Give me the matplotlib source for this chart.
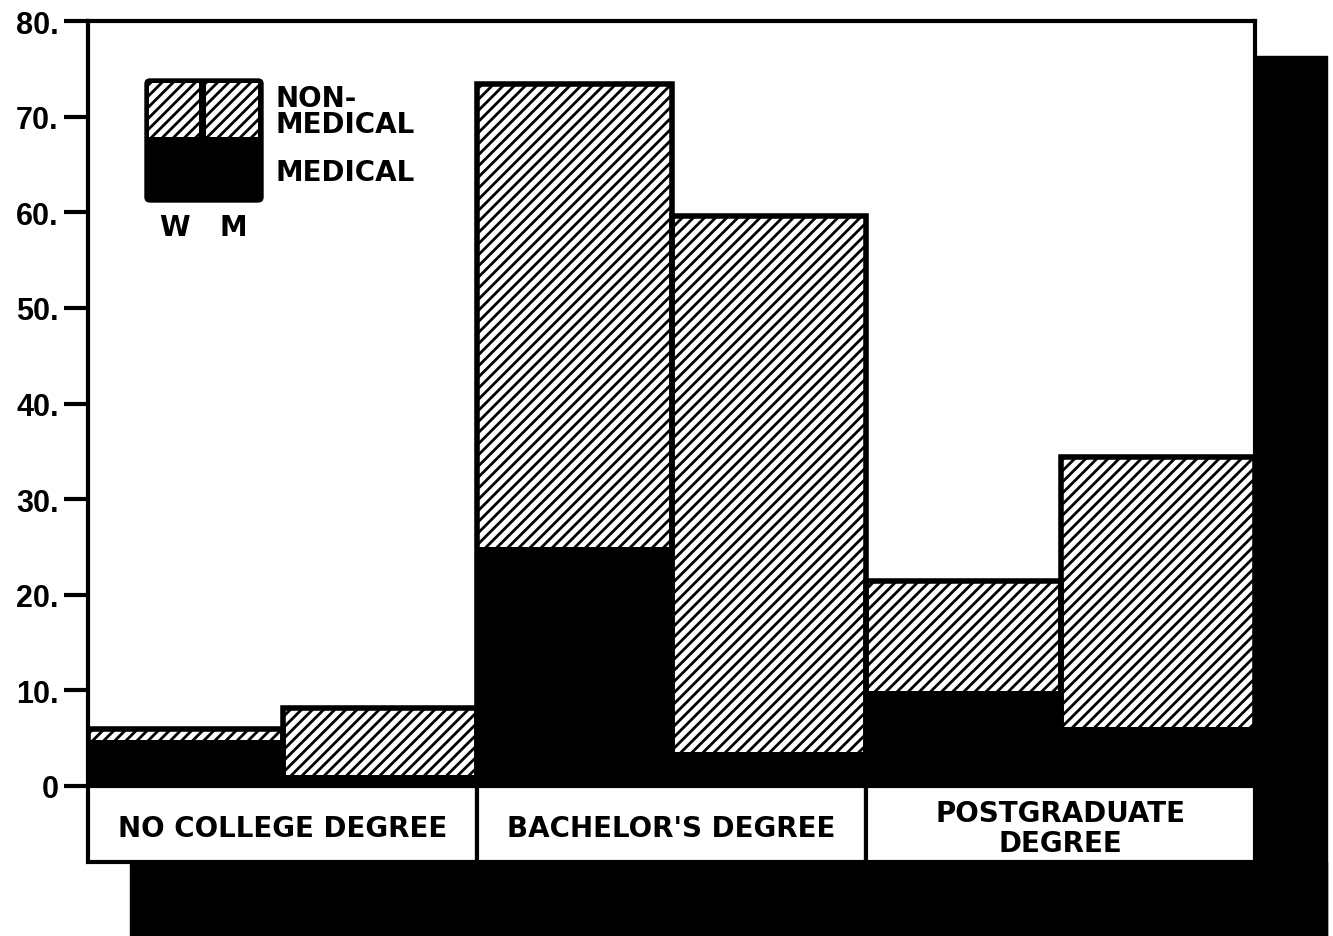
import matplotlib
matplotlib.use("Agg")
import matplotlib.pyplot as plt
from matplotlib.patches import Rectangle, FancyBboxPatch

# values (percent)
categories = ["NO COLLEGE DEGREE", "BACHELOR'S DEGREE", "POSTGRADUATE\nDEGREE"]
groups = ["W", "M"]
medical = [4.8, 1.2, 25.0, 3.6, 9.9, 6.2]
total = [6.0, 8.2, 73.4, 59.6, 21.4, 34.4]
yticks = [0, 10, 20, 30, 40, 50, 60, 70, 80]
ytick_labels = ["0", "10.", "20.", "30.", "40.", "50.", "60.", "70.", "80."]

W, H = 1333, 937
fx = lambda px: px / W
fy = lambda py: 1 - py / H

plt.rcParams["hatch.linewidth"] = 2.0
fig = plt.figure(figsize=(W / 100, H / 100), dpi=100)

# drop shadow (right strip + bottom strip)
fig.add_artist(Rectangle((fx(1255), 0), fx(1327) - fx(1255), fy(57),
                         transform=fig.transFigure, color="black", zorder=0))
fig.add_artist(Rectangle((fx(130), 0), fx(1327) - fx(130), fy(863),
                         transform=fig.transFigure, color="black", zorder=0))

ax = fig.add_axes([fx(88), fy(787), fx(1255) - fx(88), (787 - 22) / H])
x = list(range(len(total)))
nonmed = [t - m for t, m in zip(total, medical)]
ax.bar(x, medical, width=1, align="edge", color="black", edgecolor="black", lw=0)
ax.bar(x, nonmed, bottom=medical, width=1, align="edge", facecolor="white",
       edgecolor="black", hatch="///", lw=0)
ax.bar(x, total, width=1, align="edge", fill=False, edgecolor="black", lw=4)
ax.set_xlim(0, len(total))
ax.set_ylim(0, 80)
ax.set_xticks([])
ax.set_yticks(yticks)
ax.set_yticklabels(ytick_labels, fontfamily="Liberation Sans", fontweight="bold",
                   fontsize=22)
ax.tick_params(axis="y", length=17, width=3, pad=4)
for s in ax.spines.values():
    s.set_linewidth(3)

# category boxes under the axis
cax = fig.add_axes([fx(88), fy(863), fx(1255) - fx(88), (863 - 787) / H])
cax.set_xlim(0, len(total))
cax.set_ylim(0, 1)
cax.axis("off")
for i, name in enumerate(categories):
    cax.add_patch(Rectangle((2 * i, 0), 2, 1, facecolor="white", edgecolor="black",
                            lw=3, clip_on=False))
    cax.text(2 * i + 1, 0.45, name, ha="center", va="center", fontsize=20,
             fontweight="bold", linespacing=1.1)

# legend key drawn by hand
lax = fig.add_axes([fx(143), fy(205), 122 / W, 127 / H])
lax.set_xlim(0, 122)
lax.set_ylim(127, 0)
lax.axis("off")
lax.add_patch(FancyBboxPatch((2, 2), 118, 123, boxstyle="round,pad=0,rounding_size=5",
                             facecolor="black", edgecolor="black", lw=1))
lax.add_patch(Rectangle((6, 6), 50, 54, facecolor="white", edgecolor="black",
                        hatch="///", lw=0))
lax.add_patch(Rectangle((63, 6), 52, 54, facecolor="white", edgecolor="black",
                        hatch="///", lw=0))
for gx, g in zip([174, 233], groups):
    fig.text(fx(gx), fy(228), g, ha="center", va="center", fontsize=20,
             fontweight="bold")
fig.text(fx(276), fy(112), "NON-\nMEDICAL", ha="left", va="center", fontsize=20,
         fontweight="bold", linespacing=0.95)
fig.text(fx(276), fy(173), "MEDICAL", ha="left", va="center", fontsize=20,
         fontweight="bold")

fig.savefig("out.png", dpi=100)
